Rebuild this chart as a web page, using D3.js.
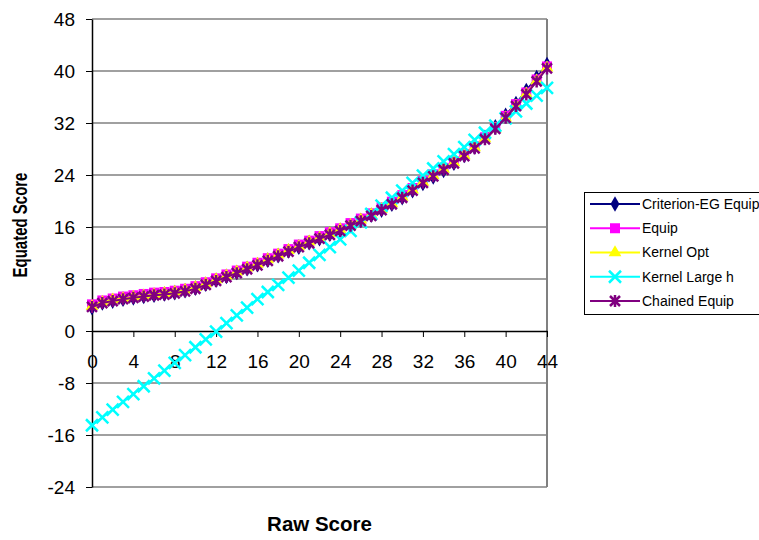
<!DOCTYPE html>
<html>
<head>
<meta charset="utf-8">
<script src="https://cdn.jsdelivr.net/npm/d3@7"></script>
<style>
  body { margin: 0; background: #fff; }
  svg { display: block; font-family: "Liberation Sans", Arial, sans-serif; }
</style>
</head>
<body>
<div id="chart"></div>
<script>
// raw scores 0..44
var rawScores = d3.range(0, 45);
var xTicks = [0, 4, 8, 12, 16, 20, 24, 28, 32, 36, 40, 44];
var yTicks = [-24, -16, -8, 0, 8, 16, 24, 32, 40, 48];

var seriesNames = ["Criterion-EG Equip", "Equip", "Kernel Opt", "Kernel Large h", "Chained Equip"];

var criterionEG = [3.6, 4.3, 4.6, 4.9, 5.1, 5.3, 5.5, 5.7, 5.9, 6.2, 6.6, 7.2, 7.8, 8.4, 9.0, 9.6, 10.2, 10.9, 11.6, 12.3, 12.9, 13.6, 14.2, 14.9, 15.5, 16.2, 17.0, 17.8, 18.6, 19.5, 20.5, 21.6, 22.7, 23.7, 24.7, 25.8, 27.0, 28.3, 29.8, 31.4, 33.2, 35.0, 37.0, 39.0, 41.0];
var equip = [4.1, 4.7, 5.0, 5.3, 5.5, 5.7, 5.9, 6.0, 6.2, 6.5, 6.9, 7.5, 8.1, 8.7, 9.3, 9.9, 10.5, 11.2, 11.9, 12.6, 13.3, 13.9, 14.6, 15.2, 15.8, 16.6, 17.3, 18.1, 19.0, 19.9, 20.9, 22.0, 23.1, 24.1, 25.1, 26.1, 27.2, 28.4, 29.8, 31.4, 33.1, 34.9, 36.7, 38.7, 40.7];
var kernelOpt = [3.8, 4.4, 4.8, 5.0, 5.2, 5.4, 5.6, 5.8, 6.0, 6.3, 6.7, 7.3, 7.9, 8.5, 9.1, 9.7, 10.3, 11.0, 11.7, 12.4, 13.0, 13.7, 14.3, 15.0, 15.6, 16.3, 17.1, 17.9, 18.7, 19.6, 20.6, 21.7, 22.9, 23.9, 24.9, 25.9, 27.0, 28.2, 29.6, 31.1, 32.8, 34.6, 36.5, 38.5, 40.5];
var kernelLargeH = [-14.5, -13.3, -12.1, -10.9, -9.7, -8.5, -7.3, -6.1, -4.9, -3.7, -2.5, -1.3, -0.1, 1.2, 2.4, 3.6, 4.9, 6.0, 7.1, 8.2, 9.3, 10.5, 11.7, 12.9, 14.1, 15.4, 16.7, 18.0, 19.3, 20.5, 21.6, 22.8, 23.9, 25.0, 26.1, 27.2, 28.3, 29.4, 30.5, 31.6, 32.7, 33.8, 35.0, 36.2, 37.4];
var chainedEquip = [3.7, 4.3, 4.6, 4.9, 5.1, 5.3, 5.5, 5.6, 5.8, 6.1, 6.5, 7.1, 7.7, 8.3, 8.9, 9.5, 10.1, 10.8, 11.5, 12.2, 12.9, 13.5, 14.2, 14.8, 15.4, 16.2, 16.9, 17.7, 18.6, 19.5, 20.5, 21.6, 22.8, 23.8, 24.8, 25.8, 26.9, 28.1, 29.5, 31.1, 32.8, 34.6, 36.4, 38.4, 40.4];

var series = [
    { name: seriesNames[0], values: criterionEG, color: "#000080", marker: "diamond" },
    { name: seriesNames[1], values: equip, color: "#ff00ff", marker: "square" },
    { name: seriesNames[2], values: kernelOpt, color: "#ffff00", marker: "triangle" },
    { name: seriesNames[3], values: kernelLargeH, color: "#00ffff", marker: "x" },
    { name: seriesNames[4], values: chainedEquip, color: "#800080", marker: "star" }
];

var width = 759, height = 540;
var plot = { left: 92, top: 19, right: 547, bottom: 487 };

var svg = d3.select("#chart").append("svg")
    .attr("width", width)
    .attr("height", height);

var x = d3.scaleLinear().domain([0, 44]).range([plot.left, plot.right]);
var y = d3.scaleLinear().domain([-24, 48]).range([plot.bottom, plot.top]);

// plain hyphen for negatives, like the original
var plainFormat = function (d) { return String(d); };

// gridlines (0 is the axis line itself)
svg.append("g")
    .selectAll("line")
    .data(yTicks.filter(function (d) { return d !== 0; }))
    .enter().append("line")
    .attr("x1", plot.left).attr("x2", plot.right)
    .attr("y1", function (d) { return y(d); })
    .attr("y2", function (d) { return y(d); })
    .attr("stroke", "#808080")
    .attr("stroke-width", 1.5);

// right border
svg.append("line")
    .attr("x1", plot.right).attr("x2", plot.right)
    .attr("y1", plot.top).attr("y2", plot.bottom)
    .attr("stroke", "#808080")
    .attr("stroke-width", 2);

// y axis
var yAxis = svg.append("g")
    .attr("transform", "translate(" + plot.left + ",0)")
    .call(d3.axisLeft(y).tickValues(yTicks).tickFormat(plainFormat)
        .tickSize(6).tickPadding(11).tickSizeOuter(0));
yAxis.select(".domain").attr("stroke", "#000").attr("stroke-width", 1.5);
yAxis.selectAll(".tick line").attr("stroke", "#000");
yAxis.selectAll("text")
    .style("font-size", "19px")
    .style("font-family", "Liberation Sans, Arial, sans-serif")
    .attr("fill", "#000");

// x axis through zero
var xAxis = svg.append("g")
    .attr("transform", "translate(0," + y(0) + ")")
    .call(d3.axisBottom(x).tickValues(xTicks).tickFormat(plainFormat)
        .tickSize(6).tickPadding(18).tickSizeOuter(0));
xAxis.select(".domain").attr("stroke", "#000").attr("stroke-width", 1.5);
xAxis.selectAll(".tick line").attr("stroke", "#000");
xAxis.selectAll("text")
    .style("font-size", "19px")
    .style("font-family", "Liberation Sans, Arial, sans-serif")
    .attr("fill", "#000");

// axis titles
svg.append("text")
    .attr("x", (plot.left + plot.right) / 2)
    .attr("y", 531)
    .attr("text-anchor", "middle")
    .style("font-size", "20.5px")
    .style("font-weight", "bold")
    .text("Raw Score");

svg.append("text")
    .attr("transform", "translate(27,225) scale(1.3,1) rotate(-90)")
    .attr("text-anchor", "middle")
    .style("font-size", "15px")
    .style("font-weight", "bold")
    .text("Equated Score");

// marker shapes
function markerPath(type) {
    if (type === "diamond") return d3.symbol().type(d3.symbolDiamond).size(70)();
    if (type === "square") return d3.symbol().type(d3.symbolSquare).size(100)();
    if (type === "triangle") return d3.symbol().type(d3.symbolTriangle).size(70)();
    if (type === "x") return "M-6,-6L6,6M-6,6L6,-6";
    return "M-5,-5L5,5M-5,5L5,-5M0,-6L0,6";
}
function isStroked(type) {
    return type === "x" || type === "star";
}
function drawMarker(sel, s) {
    sel.attr("d", markerPath(s.marker))
        .attr("fill", isStroked(s.marker) ? "none" : s.color)
        .attr("stroke", isStroked(s.marker) ? s.color : "none")
        .attr("stroke-width", 2.5);
}

var line = d3.line()
    .x(function (d, i) { return x(rawScores[i]); })
    .y(function (d) { return y(d); });

series.forEach(function (s) {
    var g = svg.append("g");
    g.append("path")
        .datum(s.values)
        .attr("d", line)
        .attr("fill", "none")
        .attr("stroke", s.color)
        .attr("stroke-width", 2);
    g.selectAll("path.m")
        .data(s.values)
        .enter().append("path")
        .attr("class", "m")
        .attr("transform", function (d, i) {
            return "translate(" + x(rawScores[i]) + "," + y(d) + ")";
        })
        .call(drawMarker, s);
});

// legend
var legend = svg.append("g");
legend.append("rect")
    .attr("x", 584.5).attr("y", 192.5)
    .attr("width", 200).attr("height", 122)
    .attr("fill", "#fff")
    .attr("stroke", "#000");

var rowY = d3.scalePoint().domain(seriesNames).range([204, 301]);
series.forEach(function (s) {
    var ly = rowY(s.name);
    legend.append("line")
        .attr("x1", 590).attr("x2", 640)
        .attr("y1", ly).attr("y2", ly)
        .attr("stroke", s.color)
        .attr("stroke-width", 2);
    legend.append("path")
        .attr("transform", "translate(615," + ly + ")")
        .call(drawMarker, s);
    legend.append("text")
        .attr("x", 642)
        .attr("y", ly)
        .attr("dy", "0.35em")
        .style("font-size", "14px")
        .text(s.name);
});
</script>
</body>
</html>
